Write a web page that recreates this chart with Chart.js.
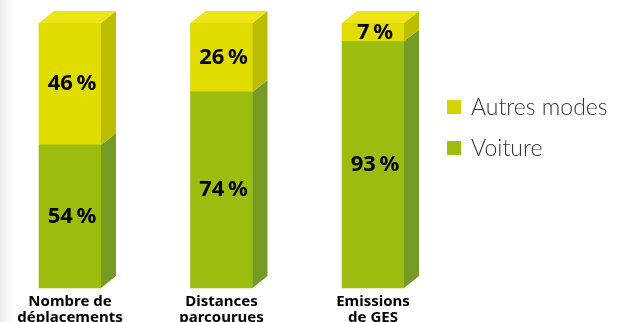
<!DOCTYPE html>
<html>
<head>
<meta charset="utf-8">
<script src="https://cdn.jsdelivr.net/npm/chart.js@4.4.1/dist/chart.umd.min.js"></script>
<style>
  html, body { margin: 0; padding: 0; overflow: hidden; }
  body { width: 620px; height: 322px; background: linear-gradient(to right, #ececec 0, #f7f7f7 8px, #fff 16px); }
  #wrap { position: relative; width: 620px; height: 322px; }
</style>
</head>
<body>
<div id="wrap"><canvas id="chart"></canvas></div>
<script>
// data
const categories = [['Nombre de', 'déplacements'], ['Distances', 'parcourues'], ['Emissions', 'de GES']];
const voiture = [54, 74, 93];
const autresModes = [46, 26, 7];
const seriesNames = ['Voiture', 'Autres modes'];

// colours for the fake 3d faces
const faces = [
    { front: '#9cbc10', side: '#749c24', top: '#b4cc30', swatch: '#9cbc10' },
    { front: '#e0dc00', side: '#bcbc00', top: '#f0e418', swatch: '#d4d400' }
];
const DX = 15, DY = 12;

// draws side / top faces and the percentage labels
const boxes3d = {
    id: 'boxes3d',
    afterDatasetsDraw(chart) {
        const ctx = chart.ctx;
        const last = chart.data.datasets.length - 1;
        chart.data.datasets.forEach((ds, di) => {
            const meta = chart.getDatasetMeta(di);
            meta.data.forEach((bar) => {
                const p = bar.getProps(['x', 'y', 'base', 'width'], true);
                const left = p.x - p.width / 2, right = p.x + p.width / 2;
                const top = Math.min(p.y, p.base), bottom = Math.max(p.y, p.base);
                ctx.save();
                ctx.fillStyle = faces[di].side;
                ctx.beginPath();
                ctx.moveTo(right, top);
                ctx.lineTo(right + DX, top - DY);
                ctx.lineTo(right + DX, bottom - DY);
                ctx.lineTo(right, bottom);
                ctx.closePath();
                ctx.fill();
                if (di === last) {
                    ctx.fillStyle = faces[di].top;
                    ctx.beginPath();
                    ctx.moveTo(left, top);
                    ctx.lineTo(left + DX, top - DY);
                    ctx.lineTo(right + DX, top - DY);
                    ctx.lineTo(right, top);
                    ctx.closePath();
                    ctx.fill();
                }
                ctx.restore();
            });
        });
        // value labels
        chart.data.datasets.forEach((ds, di) => {
            const meta = chart.getDatasetMeta(di);
            meta.data.forEach((bar, i) => {
                const p = bar.getProps(['x', 'y', 'base'], true);
                ctx.save();
                ctx.fillStyle = '#000';
                ctx.font = 'bold 22px "Noto Sans"';
                ctx.textAlign = 'center';
                ctx.textBaseline = 'middle';
                ctx.fillText(ds.data[i] + '\u2009%', p.x + 2, (p.y + p.base) / 2);
                ctx.restore();
            });
        });
    }
};

// legend on the right, top series first
const sideLegend = {
    id: 'sideLegend',
    afterDraw(chart) {
        const ctx = chart.ctx;
        const items = chart.data.datasets.map((ds, i) => ({ label: ds.label, color: faces[i].swatch })).reverse();
        items.forEach((it, i) => {
            const y = 107 + i * 41;
            ctx.save();
            ctx.fillStyle = it.color;
            ctx.fillRect(447, y - 7, 14, 14);
            ctx.fillStyle = '#333';
            ctx.font = '300 23px Lato';
            ctx.textBaseline = 'middle';
            ctx.fillText(it.label, 471, y + 1);
            ctx.restore();
        });
    }
};

new Chart(document.getElementById('chart'), {
    type: 'bar',
    data: {
        labels: categories,
        datasets: [
            { label: seriesNames[0], data: voiture, backgroundColor: faces[0].front, barThickness: 62, clip: false },
            { label: seriesNames[1], data: autresModes, backgroundColor: faces[1].front, barThickness: 62, clip: false }
        ]
    },
    options: {
        responsive: true,
        maintainAspectRatio: false,
        animation: false,
        layout: { padding: { left: 70, right: 247, top: 23, bottom: 0 } },
        plugins: { legend: { display: false }, tooltip: { enabled: false } },
        scales: {
            x: {
                stacked: true,
                offset: false,
                grid: { display: false },
                border: { display: false },
                afterFit: (scale) => { scale.height = 34; },
                ticks: {
                    color: '#000',
                    padding: -2,
                    maxRotation: 0,
                    autoSkip: false,
                    font: { family: 'Noto Sans', weight: 'bold', size: 15, lineHeight: 1.05 }
                }
            },
            y: { stacked: true, display: false, min: 0, max: 100 }
        }
    },
    plugins: [boxes3d, sideLegend]
});
</script>
</body>
</html>
